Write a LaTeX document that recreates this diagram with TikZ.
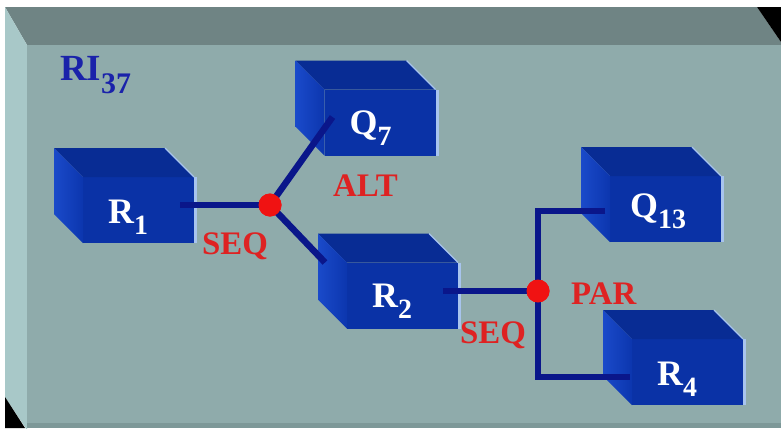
\documentclass[tikz,border=0pt]{standalone}
\usepackage{fontspec}
\setmainfont{Liberation Serif}
\usetikzlibrary{calc}

\definecolor{slabfront}{HTML}{8FABAB}
\definecolor{slabtop}{HTML}{6F8484}
\definecolor{slabside}{HTML}{A8C8C8}
\definecolor{slabbottom}{HTML}{7D9898}
\definecolor{boxfront}{HTML}{0A32A6}
\definecolor{boxtop}{HTML}{082C94}
\definecolor{boxsideback}{HTML}{1A4ACA}
\definecolor{boxsidefront}{HTML}{0C36AE}
\definecolor{boxedge}{HTML}{A8C4EE}
\definecolor{connblue}{HTML}{0A168A}
\definecolor{jointred}{HTML}{F01212}
\definecolor{oplabelred}{HTML}{DE2222}
\definecolor{titleblue}{HTML}{1A22AA}

% subscript lowered below the baseline
\newcommand\lowsub[2][28]{\raisebox{-11bp}{\fontsize{#1}{#1}\selectfont #2}}

% a 3D block: front face node plus top and left faces
\newcommand\blockbox[2]{%
  \node[face] (#1) at #2 {};
  \fill[boxtop] (#1.north west) -- ++(-29,-29) -- ($(#1.north east)+(-29,-29)$) -- (#1.north east) -- cycle;
  \shade[left color=boxsideback, right color=boxsidefront]
    (#1.north west) -- ++(-29,-29) -- ($(#1.south west)+(-29,-29)$) -- (#1.south west) -- cycle;
  \draw[boxedge, line width=3bp] ($(#1.north east)+(1.5,0)$) -- ($(#1.south east)+(1.5,0)$);
  \draw[boxedge, line width=1.2bp] ($(#1.north east)+(-29,-29)$) -- (#1.north east);
}

\begin{document}
\begin{tikzpicture}[x=1bp,y=-1bp,
  face/.style={rectangle, draw=none, fill=boxfront, minimum width=111bp,
    minimum height=66bp, inner sep=0pt, outer sep=0pt},
  boxlabel/.style={anchor=base west, inner sep=0pt, text=white,
    font=\bfseries\fontsize{36}{36}\selectfont},
  oplabel/.style={anchor=base west, inner sep=0pt, text=oplabelred,
    font=\bfseries\fontsize{33}{33}\selectfont},
  conn/.style={draw=connblue, line width=6.5bp},
  joint/.style={circle, fill=jointred, minimum size=23bp, inner sep=0pt}]
\useasboundingbox (0,0) rectangle (781,428);
\fill[white] (0,0) rectangle (781,428);

% the slab
\fill[slabtop] (5,7) -- (757,7) -- (781,42) -- (781,45) -- (27,45) -- cycle;
\fill[black] (757,7) -- (781,7) -- (781,42) -- cycle;
\fill[slabside] (5,7) -- (27,45) -- (27,430) -- (5,397) -- cycle;
\fill[black] (5,397) -- (25,428) -- (5,428) -- cycle;
\fill[slabfront] (27,45) rectangle (781,423);
\fill[slabbottom] (27,423) rectangle (781,428);

\node[anchor=base west, inner sep=0pt, text=titleblue,
  font=\bfseries\fontsize{37}{37}\selectfont] (title) at (60,80)
  {RI\raisebox{-13bp}{\fontsize{30}{30}\selectfont 37}};

% blocks
\blockbox{R1f}{(138.5,210)}
\blockbox{Q7f}{(380,122.5)}
\blockbox{R2f}{(402.5,295.5)}
\blockbox{Q13f}{(665.5,209)}
\blockbox{R4f}{(687.5,372)}

\node[boxlabel] (R1) at ($(R1f.south west)+(25,-20)$) {R\lowsub{1}};
\node[boxlabel] (Q7) at ($(Q7f.south west)+(25,-21)$) {Q\lowsub{7}};
\node[boxlabel] (R2) at ($(R2f.south west)+(25,-21)$) {R\lowsub{2}};
\node[boxlabel] (Q13) at ($(Q13f.south west)+(20,-25)$) {Q\lowsub{13}};
\node[boxlabel] (R4) at ($(R4f.south west)+(25,-20)$) {R\lowsub{4}};

% joints
\node[joint] (d1) at (270,205) {};
\node[joint] (d2) at (538,291) {};

% connector ends inside the blocks
\coordinate (r1out) at ($(R1f.east)+(-14,-5)$);
\coordinate (q7in) at ($(Q7f.west)+(8,-5.5)$);
\coordinate (r2in) at ($(R2f.north west)+(-22,0)$);
\coordinate (r2out) at ($(R2f.east)+(-15,-4.5)$);
\coordinate (q13in) at ($(Q13f.west)+(-5,2)$);
\coordinate (r4in) at ($(R4f.west)+(-2,5)$);

\draw[conn] (r1out) -- (d1.center);
\draw[conn] (d1.center) -- (q7in);
\draw[conn] (d1.center) -- (r2in);
\draw[conn] (r2out) -- (d2.center);
\draw[conn] (q13in) -| (d2.center) |- (r4in);

\node[joint] (d1dot) at (d1) {};
\node[joint] (d2dot) at (d2) {};

% operator labels
\node[oplabel] (seq1) at (202,254) {SEQ};
\node[oplabel] (alt) at (333,196) {ALT};
\node[oplabel] (seq2) at (460,343) {SEQ};
\node[oplabel] (par) at (571,304) {PAR};
\end{tikzpicture}
\end{document}
